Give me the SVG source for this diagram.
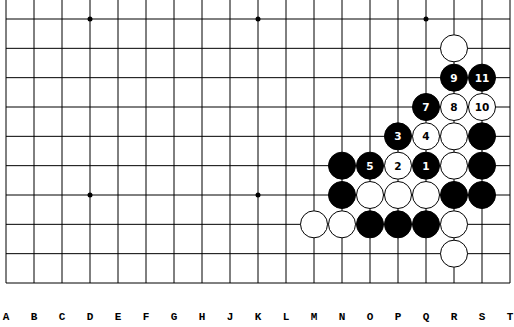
<svg xmlns="http://www.w3.org/2000/svg" width="514" height="327" viewBox="0 0 514 327">
<style>
.g{stroke:#000;stroke-width:1;fill:none}
.b{fill:#000;stroke:#000;stroke-width:1}
.w{fill:#fff;stroke:#000;stroke-width:1}
.nb{fill:#fff;font-family:"DejaVu Sans",sans-serif;font-weight:bold;font-size:10.5px;text-anchor:middle}
.nw{fill:#000;font-family:"DejaVu Sans",sans-serif;font-weight:bold;font-size:10.5px;text-anchor:middle}
.lab{fill:#000;font-family:"Liberation Mono",monospace;font-weight:bold;font-size:11px;text-anchor:middle}
</style>
<rect width="514" height="327" fill="#fff"/>
<g id="grid" class="g">
<path d="M6 0V283M34 0V283M62 0V283M90 0V283M118 0V283M146 0V283M174 0V283M202 0V283M230 0V283M258 0V283M286 0V283M314 0V283M342 0V283M370 0V283M398 0V283M426 0V283M454 0V283M482 0V283M510 0V283"/>
<path d="M6 19H510M6 48.33H510M6 77.67H510M6 107H510M6 136.33H510M6 165.67H510M6 195H510M6 224.33H510M6 253.67H510M6 283H510"/>
</g>
<g id="stars" fill="#000">
<circle cx="90" cy="19" r="2.5"/><circle cx="258" cy="19" r="2.5"/><circle cx="426" cy="19" r="2.5"/>
<circle cx="90" cy="195" r="2.5"/><circle cx="258" cy="195" r="2.5"/>
</g>
<g id="stones">
<g id="R15"><circle class="w" cx="454" cy="48.33" r="13.5"/></g>
<g id="R14"><circle class="b" cx="454" cy="77.67" r="13.5"/><text class="nb" x="454" y="81.5">9</text></g>
<g id="S14"><circle class="b" cx="482" cy="77.67" r="13.5"/><text class="nb" x="482" y="81.5">11</text></g>
<g id="Q13"><circle class="b" cx="426" cy="107" r="13.5"/><text class="nb" x="426" y="110.8">7</text></g>
<g id="R13"><circle class="w" cx="454" cy="107" r="13.5"/><text class="nw" x="454" y="110.8">8</text></g>
<g id="S13"><circle class="w" cx="482" cy="107" r="13.5"/><text class="nw" x="482" y="110.8">10</text></g>
<g id="P12"><circle class="b" cx="398" cy="136.33" r="13.5"/><text class="nb" x="398" y="140.1">3</text></g>
<g id="Q12"><circle class="w" cx="426" cy="136.33" r="13.5"/><text class="nw" x="426" y="140.1">4</text></g>
<g id="R12"><circle class="w" cx="454" cy="136.33" r="13.5"/></g>
<g id="S12"><circle class="b" cx="482" cy="136.33" r="13.5"/></g>
<g id="N11"><circle class="b" cx="342" cy="165.67" r="13.5"/></g>
<g id="O11"><circle class="b" cx="370" cy="165.67" r="13.5"/><text class="nb" x="370" y="169.5">5</text></g>
<g id="P11"><circle class="w" cx="398" cy="165.67" r="13.5"/><text class="nw" x="398" y="169.5">2</text></g>
<g id="Q11"><circle class="b" cx="426" cy="165.67" r="13.5"/><text class="nb" x="426" y="169.5">1</text></g>
<g id="R11"><circle class="w" cx="454" cy="165.67" r="13.5"/></g>
<g id="S11"><circle class="b" cx="482" cy="165.67" r="13.5"/></g>
<g id="N10"><circle class="b" cx="342" cy="195" r="13.5"/></g>
<g id="O10"><circle class="w" cx="370" cy="195" r="13.5"/></g>
<g id="P10"><circle class="w" cx="398" cy="195" r="13.5"/></g>
<g id="Q10"><circle class="w" cx="426" cy="195" r="13.5"/></g>
<g id="R10"><circle class="b" cx="454" cy="195" r="13.5"/></g>
<g id="S10"><circle class="b" cx="482" cy="195" r="13.5"/></g>
<g id="M9"><circle class="w" cx="314" cy="224.33" r="13.5"/></g>
<g id="N9"><circle class="w" cx="342" cy="224.33" r="13.5"/></g>
<g id="O9"><circle class="b" cx="370" cy="224.33" r="13.5"/></g>
<g id="P9"><circle class="b" cx="398" cy="224.33" r="13.5"/></g>
<g id="Q9"><circle class="b" cx="426" cy="224.33" r="13.5"/></g>
<g id="R9"><circle class="w" cx="454" cy="224.33" r="13.5"/></g>
<g id="R8"><circle class="w" cx="454" cy="253.67" r="13.5"/></g>
</g>
<g id="labels" class="lab">
<text x="6" y="319.5">A</text><text x="34" y="319.5">B</text><text x="62" y="319.5">C</text><text x="90" y="319.5">D</text><text x="118" y="319.5">E</text><text x="146" y="319.5">F</text><text x="174" y="319.5">G</text><text x="202" y="319.5">H</text><text x="230" y="319.5">J</text><text x="258" y="319.5">K</text><text x="286" y="319.5">L</text><text x="314" y="319.5">M</text><text x="342" y="319.5">N</text><text x="370" y="319.5">O</text><text x="398" y="319.5">P</text><text x="426" y="319.5">Q</text><text x="454" y="319.5">R</text><text x="482" y="319.5">S</text><text x="510" y="319.5">T</text>
</g>
</svg>
